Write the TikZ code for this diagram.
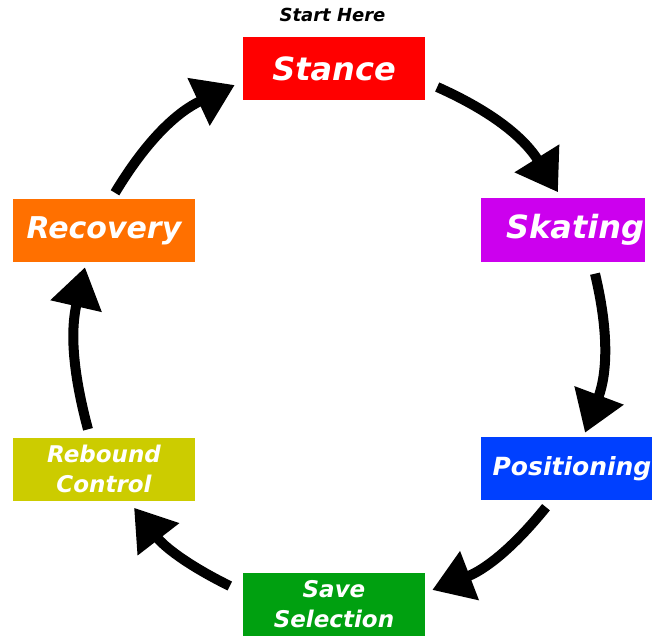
\documentclass[tikz,border=0pt]{standalone}
\usepackage{fontspec}
\setmainfont{DejaVu Sans}
\usetikzlibrary{arrows.meta}
\definecolor{stancered}{RGB}{255,0,0}
\definecolor{skatingpink}{RGB}{204,0,238}
\definecolor{posblue}{RGB}{0,64,255}
\definecolor{savegreen}{RGB}{0,160,16}
\definecolor{reboundolive}{RGB}{204,204,0}
\definecolor{recoveryorange}{RGB}{255,112,0}
\begin{document}
\begin{tikzpicture}[x=1pt,y=-1pt,
  stepbox/.style={minimum width=182pt, minimum height=63pt, inner sep=0pt,
    text=white, font=\bfseries\itshape\fontsize{32}{36}\selectfont, align=center},
  smallbox/.style={stepbox, font=\bfseries\itshape\fontsize{23}{30}\selectfont},
  cycarrow/.style={line width=10pt, -{Triangle[length=40pt,width=50pt]}}]
\useasboundingbox (0,0) rectangle (652,636);
\node (start) at (332.5,15) {\bfseries\itshape\fontsize{18}{20}\selectfont Start Here};
\node[stepbox, fill=stancered] (stance) at (334,68.5) {Stance};
\node[stepbox, fill=skatingpink, minimum width=164pt, text width=162pt, align=right] (skating) at (563,230) {Skating};
\node[stepbox, fill=posblue, font=\bfseries\itshape\fontsize{25}{30}\selectfont] (pos) at (572,468.5) {Positioning};
\node[smallbox, fill=savegreen] (save) at (334,604.5) {Save\\Selection};
\node[smallbox, fill=reboundolive] (rebound) at (104,469) {Rebound\\Control};
\node[stepbox, fill=recoveryorange, font=\bfseries\itshape\fontsize{30}{36}\selectfont] (recovery) at (104,230.5) {Recovery};
\draw[cycarrow] ([shift={(12,18.5)}]stance.east) to[bend left=17] ([shift={(-5,-6)}]skating.north);
\draw[cycarrow] ([shift={(32,12)}]skating.south) to[bend left=17] ([shift={(13,-4)}]pos.north);
\draw[cycarrow] ([shift={(-26,7)}]pos.south) to[bend left=15] ([shift={(7,-14.5)}]save.east);
\draw[cycarrow] ([shift={(-13,-18.5)}]save.west) to[bend left=13] ([shift={(30,7)}]rebound.south);
\draw[cycarrow] ([shift={(-16,-8)}]rebound.north) to[bend left=14] ([shift={(-19,5)}]recovery.south);
\draw[cycarrow] ([shift={(11,-6)}]recovery.north) to[bend left=17] ([shift={(-8,16.5)}]stance.west);
\end{tikzpicture}
\end{document}
